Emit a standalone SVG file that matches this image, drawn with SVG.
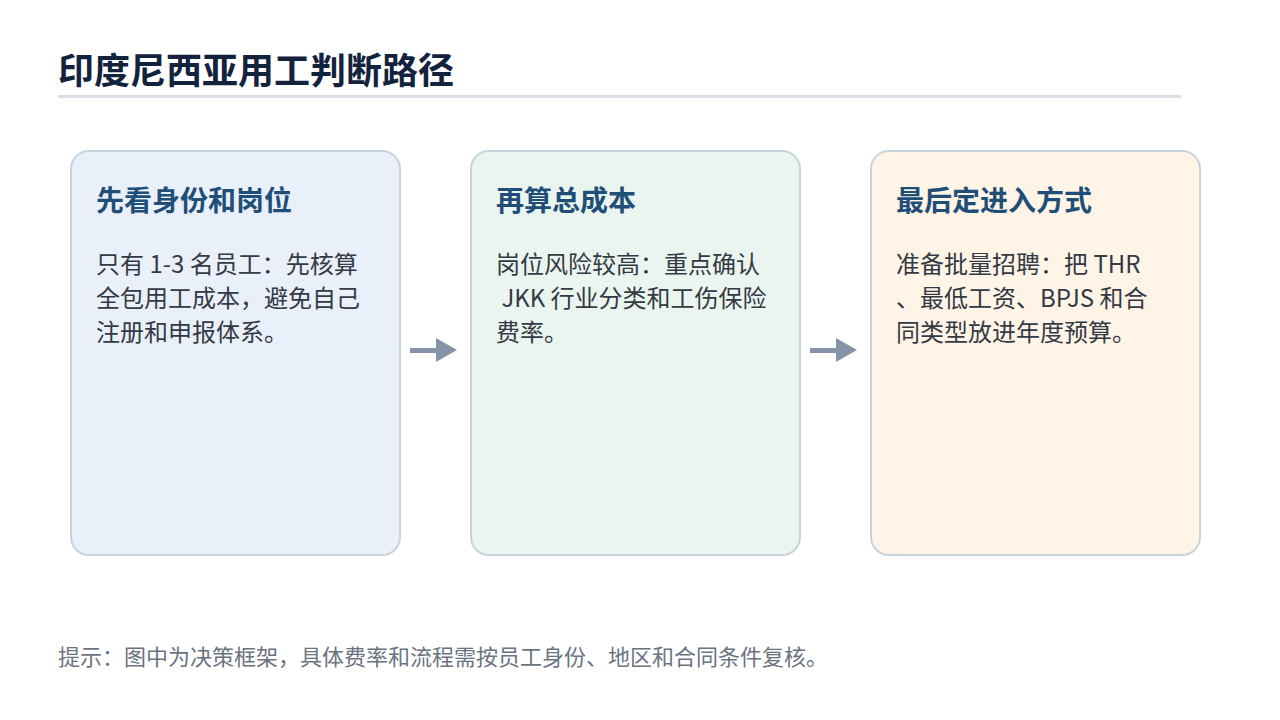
<svg xmlns="http://www.w3.org/2000/svg" width="1280" height="720" viewBox="0 0 1280 720">
<style>
text{font-family:"Noto Sans CJK SC","Noto Sans",sans-serif}
.t{font-size:36px;font-weight:bold;fill:#13233d}
.h{font-size:28px;font-weight:bold;fill:#1f4e79}
.b{font-size:24px;fill:#333a45}
.card{stroke:#c9d3de;stroke-width:2}
.n{font-size:22px;fill:#6b7380}
</style>
<rect width="1280" height="720" fill="#fff"/>
<text class="t" x="58" y="84">印度尼西亚用工判断路径</text>
<rect x="58" y="95" width="1123" height="3" fill="#d9dee7"/>
<g id="n1"><rect class="card" x="71" y="151" width="329" height="404" rx="18" fill="#e9f0fa"/>
<text class="h" x="96" y="211">先看身份和岗位</text>
<text class="b"><tspan x="96" y="273">只有 1-3 名员工：先核算</tspan><tspan x="96" y="307">全包用工成本，避免自己</tspan><tspan x="96" y="341">注册和申报体系。</tspan></text></g>
<g id="n2"><rect class="card" x="471" y="151" width="329" height="404" rx="18" fill="#ebf5ef"/>
<text class="h" x="496" y="211">再算总成本</text>
<text class="b"><tspan x="496" y="273">岗位风险较高：重点确认</tspan><tspan x="496" y="307"> JKK 行业分类和工伤保险</tspan><tspan x="496" y="341">费率。</tspan></text></g>
<g id="n3"><rect class="card" x="871" y="151" width="329" height="404" rx="18" fill="#fff4e5"/>
<text class="h" x="896" y="211">最后定进入方式</text>
<text class="b"><tspan x="896" y="273">准备批量招聘：把 THR</tspan><tspan x="896" y="307">、最低工资、BPJS 和合</tspan><tspan x="896" y="341">同类型放进年度预算。</tspan></text></g>
<g id="connectors" fill="#8592a8">
<rect x="410" y="348" width="28" height="5"/><polygon points="436,338 457,350 436,362"/>
<rect x="810" y="348" width="28" height="5"/><polygon points="836,338 857,350 836,362"/>
</g>
<text class="n" x="58" y="665">提示：图中为决策框架，具体费率和流程需按员工身份、地区和合同条件复核。</text>
</svg>
